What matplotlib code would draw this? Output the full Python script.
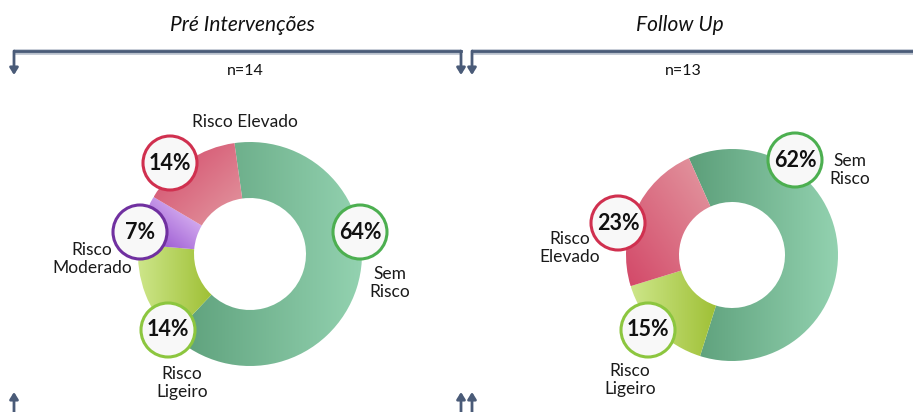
import numpy as np
import matplotlib
matplotlib.use("Agg")
import matplotlib.pyplot as plt
from matplotlib.colors import LinearSegmentedColormap
from matplotlib.patches import Circle, FancyArrowPatch

plt.rcParams['font.family'] = ['Lato', 'DejaVu Sans']

# data
pre_labels = ["Sem\nRisco", "Risco\nLigeiro", "Risco\nModerado", "Risco Elevado"]
pre_counts = [9, 2, 1, 2]
fu_labels = ["Sem\nRisco", "Risco\nLigeiro", "Risco\nElevado"]
fu_counts = [8, 2, 3]
titles = ["Pré Intervenções", "Follow Up"]

# gradient colours (start, end) and circle edge colours per category
grad = {
    "sem": ("#5c9f7a", "#93d2b0"),
    "lig": ("#cde68a", "#9fc035"),
    "mod": ("#8a3fc9", "#ecd0fc"),
    "ele": ("#d34868", "#e39aa2"),
}
edge = {"sem": "#4caf50", "lig": "#8cc63f", "mod": "#7030a0", "ele": "#d0304f"}
pre_keys = ["sem", "lig", "mod", "ele"]
fu_keys = ["sem", "lig", "ele"]
# gradient direction: h = left->right, tl = from top-left, bl = from bottom-left
pre_dirs = ["h", "h", "bl", "tl"]
fu_dirs = ["h", "h", "bl"]

H = 412
fig = plt.figure(figsize=(9.13, 4.12), dpi=100)
ax = fig.add_axes([0, 0, 1, 1])
ax.set_xlim(0, 913)
ax.set_ylim(0, H)
ax.axis("off")


def gradient_img(c0, c1, mode):
    cmap = LinearSegmentedColormap.from_list("g", [c0, c1])
    x = np.linspace(0, 1, 200)
    X, Y = np.meshgrid(x, x)
    if mode == "h":
        Z = X
    elif mode == "tl":
        Z = (X + (1 - Y)) / 2
    else:
        Z = (X + Y) / 2
    return cmap(Z)


def donut(cx, cy, r, counts, keys, dirs, start, label_pos, text_pos, labels):
    cy = H - cy
    wedges, _ = ax.pie(counts, radius=r, center=(cx, cy), startangle=start,
                       counterclock=False, frame=True,
                       wedgeprops=dict(width=r * 0.5, edgecolor="none", linewidth=0))
    for w, k, d in zip(wedges, keys, dirs):
        c0, c1 = grad[k]
        bb = w.get_path().get_extents(w.get_transform() - ax.transData)
        im = ax.imshow(gradient_img(c0, c1, d), origin="lower",
                       extent=(bb.x0, bb.x1, bb.y0, bb.y1), zorder=2,
                       interpolation="bilinear")
        im.set_clip_path(w)
        w.set_facecolor("none")
        w.set_zorder(3)
    total = sum(counts)
    for cnt, k, (px, py), (tx, ty), lab in zip(counts, keys, label_pos, text_pos, labels):
        ax.add_patch(Circle((px, H - py), 27, facecolor="#f8f8f8", edgecolor=edge[k],
                            linewidth=2.2, zorder=5))
        ax.text(px, H - py, f"{round(100 * cnt / total)}%", ha="center", va="center",
                fontsize=15.5, fontweight="bold", color="#111111", zorder=6)
        ax.text(tx, H - ty, lab, ha="center", va="center", fontsize=12.5,
                color="#1a1a1a", linespacing=1.2, zorder=6)


donut(250, 254, 112, pre_counts, pre_keys, pre_dirs, 98,
      [(360, 232), (168, 330), (140, 232), (170, 163)],
      [(390, 283), (182, 383), (92, 259), (245, 122)],
      pre_labels)
donut(732, 255, 106, fu_counts, fu_keys, fu_dirs, 114,
      [(795, 160), (648, 330), (618, 223)],
      [(850, 170), (630, 380), (570, 248)],
      fu_labels)

ax.set_xlim(0, 913)
ax.set_ylim(0, H)
ax.set_aspect("auto")

# brackets
bc = "#4a5b78"
ax.plot([14, 461], [H - 52, H - 52], color="#b8c0cc", lw=4, solid_capstyle="butt", zorder=1)
ax.plot([472, 913], [H - 52, H - 52], color="#b8c0cc", lw=4, solid_capstyle="butt", zorder=1)
ax.plot([14, 461], [H - 51, H - 51], color=bc, lw=2, zorder=2)
ax.plot([472, 913], [H - 51, H - 51], color=bc, lw=2, zorder=2)
for x in [14, 461, 472]:
    ax.add_patch(FancyArrowPatch((x, H - 51), (x, H - 75), arrowstyle="-|>,head_length=4,head_width=2.5",
                                 color=bc, lw=2, mutation_scale=1, shrinkA=0, shrinkB=0))
    ax.add_patch(FancyArrowPatch((x, -2), (x, H - 392), arrowstyle="-|>,head_length=4,head_width=2.5",
                                 color=bc, lw=2, mutation_scale=1, shrinkA=0, shrinkB=0))

ax.text(242, H - 25, titles[0], ha="center", va="center", fontsize=15, style="italic", color="#111111")
ax.text(680, H - 25, titles[1], ha="center", va="center", fontsize=15, style="italic", color="#111111")
ax.text(245, H - 71, f"n={sum(pre_counts)}", ha="center", va="center", fontsize=11.5, color="#111111")
ax.text(683, H - 71, f"n={sum(fu_counts)}", ha="center", va="center", fontsize=11.5, color="#111111")

fig.savefig("out.png", dpi=100)
